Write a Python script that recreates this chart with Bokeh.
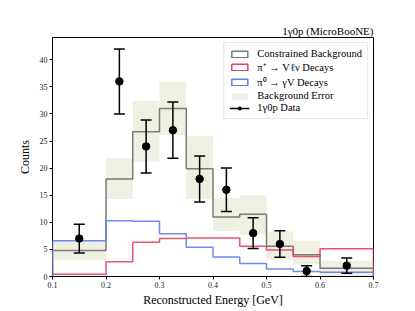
import numpy as np
from bokeh.plotting import figure
from bokeh.models import ColumnDataSource, Range1d, FixedTicker, Legend, LegendItem
from bokeh.embed import file_html
from bokeh.resources import INLINE

# ---- data ----
bin_edges = [0.1, 0.2, 0.25, 0.3, 0.35, 0.4, 0.45, 0.5, 0.55, 0.6, 0.7]
constrained_bkg = [4.8, 18.0, 26.7, 31.0, 19.9, 11.0, 11.5, 5.6, 4.0, 1.5]
bkg_err_low = [3.0, 14.3, 21.2, 26.1, 14.3, 8.4, 7.7, 3.1, 2.3, 0.1]
bkg_err_high = [6.5, 21.8, 32.4, 36.0, 25.9, 14.5, 15.0, 8.3, 6.6, 2.9]
pip_decays = [0.4, 2.7, 6.3, 7.0, 7.1, 7.1, 5.6, 4.9, 3.7, 5.1]
pi0_decays = [6.6, 10.3, 10.2, 7.9, 5.4, 3.6, 2.4, 1.4, 0.9, 0.8]
data_x = [0.15, 0.225, 0.275, 0.325, 0.375, 0.425, 0.475, 0.525, 0.575, 0.65]
data_y = [7, 36, 24, 27, 18, 16, 8, 6, 1, 2]
data_err = [2.65, 6.0, 4.9, 5.2, 4.24, 4.0, 2.83, 2.45, 1.0, 1.41]
x_ticks = [0.1, 0.2, 0.3, 0.4, 0.5, 0.6, 0.7]
y_ticks = [0, 5, 10, 15, 20, 25, 30, 35, 40]

SERIF = "Liberation Serif"

p = figure(width=400, height=309, output_backend="svg", toolbar_location=None,
           x_range=Range1d(0.1, 0.7), y_range=Range1d(0, 44.1),
           min_border_left=52, min_border_right=27, min_border_top=37, min_border_bottom=31,
           title="1γ0p (MicroBooNE)")
p.title.align = "right"
p.title.text_font = SERIF
p.title.text_font_size = "11px"
p.title.text_font_style = "normal"
p.title.text_color = "black"
p.title.standoff = 2

p.grid.visible = False
p.outline_line_color = "black"
p.outline_line_alpha = 1
p.outline_line_width = 1

for ax in (p.xaxis[0], p.yaxis[0]):
    ax.major_label_text_font = SERIF
    ax.major_label_text_font_size = "8px"
    ax.major_label_text_color = "#222222"
    ax.axis_label_text_font = SERIF
    ax.axis_label_text_font_style = "normal"
    ax.axis_label_text_font_size = "12px"
    ax.axis_label_text_color = "black"
    ax.major_tick_in = 0
    ax.major_tick_out = 3
    ax.major_tick_line_color = "black"
    ax.minor_tick_in = 0
    ax.minor_tick_out = 0
    ax.axis_line_color = None
    ax.major_label_standoff = 2
    ax.axis_label_standoff = 2
p.yaxis.axis_label_standoff = 5

p.xaxis.ticker = FixedTicker(ticks=x_ticks)
p.yaxis.ticker = FixedTicker(ticks=y_ticks)
p.xaxis.axis_label = "Reconstructed Energy [GeV]"
p.yaxis.axis_label = "Counts"

edges = np.array(bin_edges)

# background error band
band = p.quad(left=edges[:-1], right=edges[1:], bottom=bkg_err_low, top=bkg_err_high,
              fill_color="#efefe2", line_color=None)

def step_xy(vals):
    xs = np.repeat(edges, 2)
    ys = np.concatenate([[0], np.repeat(np.array(vals, dtype=float), 2), [0]])
    return xs, ys

gray, red, blue = "#7a7a7a", "#e5405e", "#5a7ff0"
for vals, col, alpha in ((constrained_bkg, gray, 1.0), (pip_decays, red, 0.9), (pi0_decays, blue, 0.9)):
    xs, ys = step_xy(vals)
    p.line(xs, ys, line_color=col, line_width=1.5, line_alpha=alpha)

# legend-only outline boxes (NaN geometry: nothing drawn in the plot)
def legend_box(col):
    src = ColumnDataSource(dict(left=[np.nan], right=[np.nan], bottom=[np.nan], top=[np.nan]))
    return p.quad(source=src, left="left", right="right", bottom="bottom", top="top",
                  fill_color=None, line_color=col, line_width=1.5)

leg_gray = legend_box(gray)
leg_red = legend_box(red)
leg_blue = legend_box(blue)

# data with error bars
dy = np.array(data_y, dtype=float)
de = np.array(data_err)
err_src = ColumnDataSource(dict(x=data_x, lo=dy - de, hi=dy + de))
seg = p.segment(x0="x", x1="x", y0="lo", y1="hi", source=err_src, line_color="black", line_width=1.5)
cap_lo = p.scatter(x="x", y="lo", source=err_src, marker="dash", size=11, line_color="black", line_width=1.5)
cap_hi = p.scatter(x="x", y="hi", source=err_src, marker="dash", size=11, line_color="black", line_width=1.5)
pts = p.scatter(data_x, data_y, marker="circle", size=7.5, fill_color="black", line_color="black")

legend = Legend(items=[
    LegendItem(label="Constrained Background", renderers=[leg_gray]),
    LegendItem(label="π⁺ → Vℓν Decays", renderers=[leg_red]),
    LegendItem(label="π⁰ → γV Decays", renderers=[leg_blue]),
    LegendItem(label="Background Error", renderers=[band]),
    LegendItem(label="1γ0p Data", renderers=[seg, pts]),
], location="top_right")
legend.label_text_font = SERIF
legend.label_text_font_size = "10.5px"
legend.label_text_color = "black"
legend.glyph_width = 20
legend.glyph_height = 8
legend.label_height = 9
legend.spacing = 1
legend.padding = 5
legend.margin = 5
legend.label_standoff = 8
legend.border_line_color = "#cccccc"
legend.background_fill_alpha = 0.85
p.add_layout(legend)

open("out.html", "w").write(file_html(p, INLINE))
